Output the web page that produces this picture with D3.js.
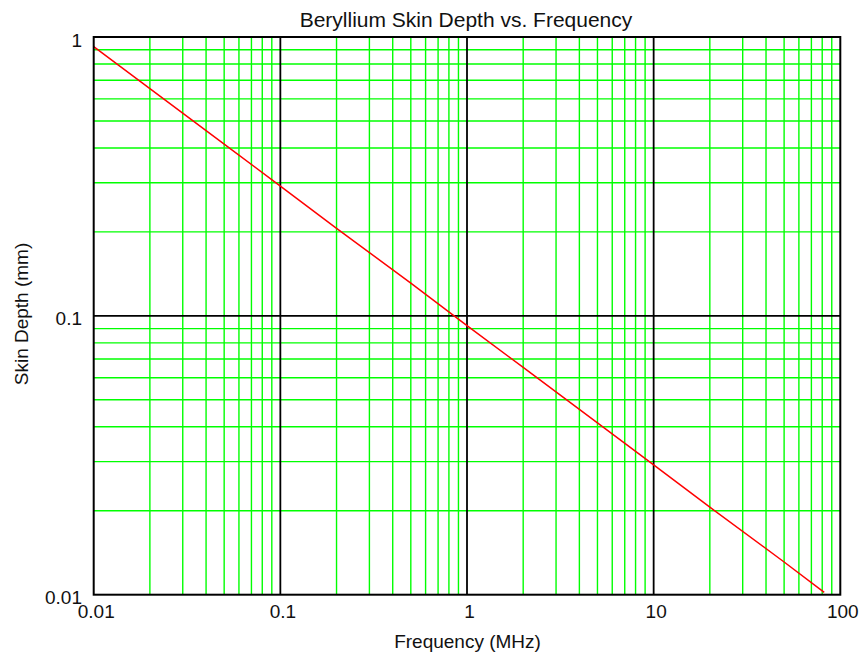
<!DOCTYPE html>
<html>
<head>
<meta charset="utf-8">
<script src="https://cdn.jsdelivr.net/npm/d3@7/dist/d3.min.js"></script>
<style>
  html, body { margin: 0; padding: 0; background: #fff; }
  svg { display: block; font-family: "Liberation Sans", Arial, sans-serif; }
</style>
</head>
<body>
<svg id="chart" width="861" height="654"></svg>
<script>
// ---- data ----
const frequencyMHz = [0.01, 0.02, 0.05, 0.1, 0.2, 0.5, 1, 2, 5, 10, 20, 50, 82];
const skinDepthMM  = [0.923, 0.653, 0.413, 0.292, 0.206, 0.131, 0.0923, 0.0653, 0.0413, 0.0292, 0.0206, 0.0131, 0.0102];
const xTickValues  = [0.01, 0.1, 1, 10, 100];
const xTickLabels  = ["0.01", "0.1", "1", "10", "100"];
const yTickValues  = [0.01, 0.1, 1];
const yTickLabels  = ["0.01", "0.1", "1"];
const titleText = "Beryllium Skin Depth vs. Frequency";
const xTitle = "Frequency (MHz)";
const yTitle = "Skin Depth (mm)";

// ---- layout ----
const plotL = 93.7, plotR = 840.3, plotT = 37, plotB = 594.7;
const svg = d3.select("#chart");
const x = d3.scaleLog().domain([0.01, 100]).range([plotL, plotR]);
const y = d3.scaleLog().domain([0.01, 1]).range([plotB, plotT]);

// minor grid values (2..9 per decade)
function minors(lo, hi) {
  const out = [];
  for (let e = Math.round(Math.log10(lo)); e < Math.round(Math.log10(hi)); e++) {
    for (let k = 2; k <= 9; k++) out.push(k * Math.pow(10, e));
  }
  return out;
}
const xMinor = minors(0.01, 100);
const yMinor = minors(0.01, 1);

const grid = svg.append("g");
grid.selectAll("line.vx").data(xMinor).enter().append("line")
  .attr("x1", d => x(d)).attr("x2", d => x(d))
  .attr("y1", plotT).attr("y2", plotB)
  .attr("stroke", "#00ff00").attr("stroke-width", 1.4);
grid.selectAll("line.hy").data(yMinor).enter().append("line")
  .attr("y1", d => y(d)).attr("y2", d => y(d))
  .attr("x1", plotL).attr("x2", plotR)
  .attr("stroke", "#00ff00").attr("stroke-width", 1.4);

// decade lines (black)
const xMajorInner = xTickValues.slice(1, -1);
const yMajorInner = yTickValues.slice(1, -1);
grid.selectAll("line.mx").data(xMajorInner).enter().append("line")
  .attr("x1", d => x(d)).attr("x2", d => x(d))
  .attr("y1", plotT).attr("y2", plotB)
  .attr("stroke", "#000").attr("stroke-width", 1.8);
grid.selectAll("line.my").data(yMajorInner).enter().append("line")
  .attr("y1", d => y(d)).attr("y2", d => y(d))
  .attr("x1", plotL).attr("x2", plotR)
  .attr("stroke", "#000").attr("stroke-width", 1.8);

// data line
const line = d3.line().x((d, i) => x(frequencyMHz[i])).y(d => y(d));
svg.append("path").datum(skinDepthMM)
  .attr("d", line)
  .attr("fill", "none")
  .attr("stroke", "#ff0000")
  .attr("stroke-width", 1.5);

// frame
svg.append("rect")
  .attr("x", plotL).attr("y", plotT)
  .attr("width", plotR - plotL).attr("height", plotB - plotT)
  .attr("fill", "none").attr("stroke", "#000").attr("stroke-width", 2);

// axes (labels only)
const xAxis = d3.axisBottom(x).tickValues(xTickValues)
  .tickFormat((d, i) => xTickLabels[i]).tickSize(0).tickPadding(0);
const gx = svg.append("g").attr("transform", `translate(0,${plotB})`).call(xAxis);
gx.select(".domain").remove();
gx.selectAll("text")
  .attr("y", 23.3).attr("dy", null).attr("dx", 2)
  .attr("font-size", 19).attr("font-family", '"Liberation Sans", Arial, sans-serif')
  .attr("fill", "#111");

const yAxis = d3.axisLeft(y).tickValues(yTickValues)
  .tickFormat((d, i) => yTickLabels[i]).tickSize(0).tickPadding(0);
const gy = svg.append("g").attr("transform", `translate(${plotL},0)`).call(yAxis);
gy.select(".domain").remove();
gy.selectAll("text")
  .attr("x", 82 - plotL).attr("dy", 9)
  .attr("font-size", 19).attr("font-family", '"Liberation Sans", Arial, sans-serif')
  .attr("fill", "#111");

// titles
svg.append("text").attr("x", 466).attr("y", 26.5)
  .attr("text-anchor", "middle").attr("font-size", 21).attr("fill", "#111")
  .text(titleText);
svg.append("text").attr("x", 467.5).attr("y", 647.5)
  .attr("text-anchor", "middle").attr("font-size", 19).attr("fill", "#111")
  .text(xTitle);
svg.append("text")
  .attr("transform", "translate(27.5,314) rotate(-90)")
  .attr("text-anchor", "middle").attr("font-size", 19).attr("fill", "#111")
  .text(yTitle);
</script>
</body>
</html>
